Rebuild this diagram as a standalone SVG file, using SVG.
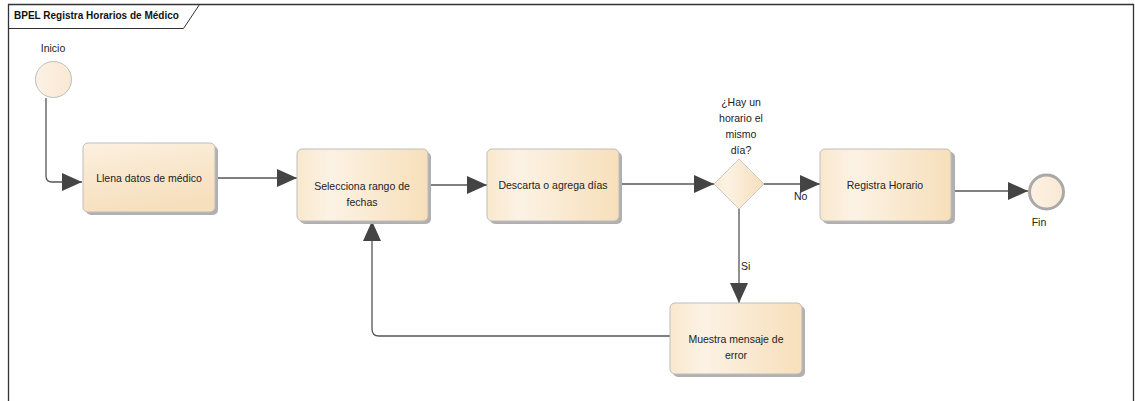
<svg xmlns="http://www.w3.org/2000/svg" width="1135" height="401" viewBox="0 0 1135 401">
<style>
text{font-family:"Liberation Sans",Arial,sans-serif;fill:#222;font-size:10.5px}
.c{text-anchor:middle}
.t{font-weight:bold;font-size:10px;fill:#111}
.task{stroke:#bdbdbd;stroke-width:1;fill:url(#gh)}
.sh{fill:#b0b0b0}
.ln{fill:none;stroke:#555;stroke-width:1.3}
</style>
<defs>
<linearGradient id="gh" x1="0" y1="0" x2="1" y2="0">
<stop offset="0" stop-color="#f9e8cd"/>
<stop offset="0.25" stop-color="#fcf2e4"/>
<stop offset="1" stop-color="#f7dfba"/>
</linearGradient>
<linearGradient id="gv" x1="0" y1="0" x2="0.3" y2="1">
<stop offset="0" stop-color="#fcf0df"/>
<stop offset="1" stop-color="#f6dfbd"/>
</linearGradient>
<linearGradient id="gc" x1="0" y1="0" x2="1" y2="0">
<stop offset="0" stop-color="#fbf1e4"/>
<stop offset="1" stop-color="#f9e9d3"/>
</linearGradient>
<marker id="ar" viewBox="0 0 20 18" refX="20" refY="9" markerWidth="20" markerHeight="18" markerUnits="userSpaceOnUse" orient="auto">
<path d="M0,0 L20,9 L0,18 Z" fill="#444"/>
</marker>
</defs>
<rect width="1135" height="401" fill="#fff"/>
<g id="frame">
<path d="M8.5,402 V4.5 H1133.5 V402" fill="none" stroke="#333" stroke-width="1.3"/>
<path d="M8.5,28.5 H183.5 L199.5,4.5" fill="none" stroke="#333" stroke-width="1"/>
<text class="t" x="14" y="19">BPEL Registra Horarios de Médico</text>
</g>
<g id="connectors">
<path class="ln" d="M46,98 V176 Q46,182 52,182 H82" marker-end="url(#ar)"/>
<path class="ln" d="M215,178 H297" marker-end="url(#ar)"/>
<path class="ln" d="M428,185 H487" marker-end="url(#ar)"/>
<path class="ln" d="M619,184 H714" marker-end="url(#ar)"/>
<path class="ln" d="M764,184 H820" marker-end="url(#ar)"/>
<text x="794" y="200">No</text>
<path class="ln" d="M951,191 H1028" marker-end="url(#ar)"/>
<path class="ln" d="M739,209 V303" marker-end="url(#ar)"/>
<text x="741" y="270">Si</text>
<path class="ln" d="M670,336 H379 Q372,336 372,329 V221" marker-end="url(#ar)"/>
</g>
<g id="start">
<circle cx="53.5" cy="79.5" r="18" fill="url(#gc)" stroke="#bdbdbd" stroke-width="1"/>
<text class="c" x="53" y="52">Inicio</text>
</g>
<g id="task1">
<rect class="sh" x="86" y="146" width="132" height="69" rx="5"/>
<rect x="83" y="143" width="132" height="69" rx="5" fill="url(#gv)" stroke="#bdbdbd"/>
<text class="c" x="149" y="182">Llena datos de médico</text>
</g>
<g id="task2">
<rect class="sh" x="300" y="152" width="131" height="72" rx="5"/>
<rect class="task" x="297" y="149" width="131" height="72" rx="5"/>
<text class="c" x="362" y="190">Selecciona rango de</text>
<text class="c" x="362" y="206">fechas</text>
</g>
<g id="task3">
<rect class="sh" x="490" y="152" width="132" height="72" rx="5"/>
<rect class="task" x="487" y="149" width="132" height="72" rx="5"/>
<text class="c" x="553" y="189">Descarta o agrega días</text>
</g>
<g id="gateway">
<path d="M714,184 L739,159 L764,184 L739,209 Z" fill="url(#gh)" stroke="#c8c8c8"/>
<text class="c" x="741" y="106">¿Hay un</text>
<text class="c" x="741" y="122">horario el</text>
<text class="c" x="741" y="138">mismo</text>
<text class="c" x="741" y="154">día?</text>
</g>
<g id="task4">
<rect class="sh" x="823" y="152" width="132" height="72" rx="5"/>
<rect class="task" x="820" y="149" width="131" height="72" rx="5"/>
<text class="c" x="885" y="189">Registra Horario</text>
</g>
<g id="end">
<circle cx="1046.5" cy="192" r="17" fill="url(#gc)" stroke="#a9a9a9" stroke-width="3"/>
<text class="c" x="1039" y="226">Fin</text>
</g>
<g id="task5">
<rect class="sh" x="673" y="306" width="132" height="71" rx="5"/>
<rect class="task" x="670" y="303" width="132" height="71" rx="5"/>
<text class="c" x="736" y="343">Muestra mensaje de</text>
<text class="c" x="736" y="359">error</text>
</g>
</svg>
